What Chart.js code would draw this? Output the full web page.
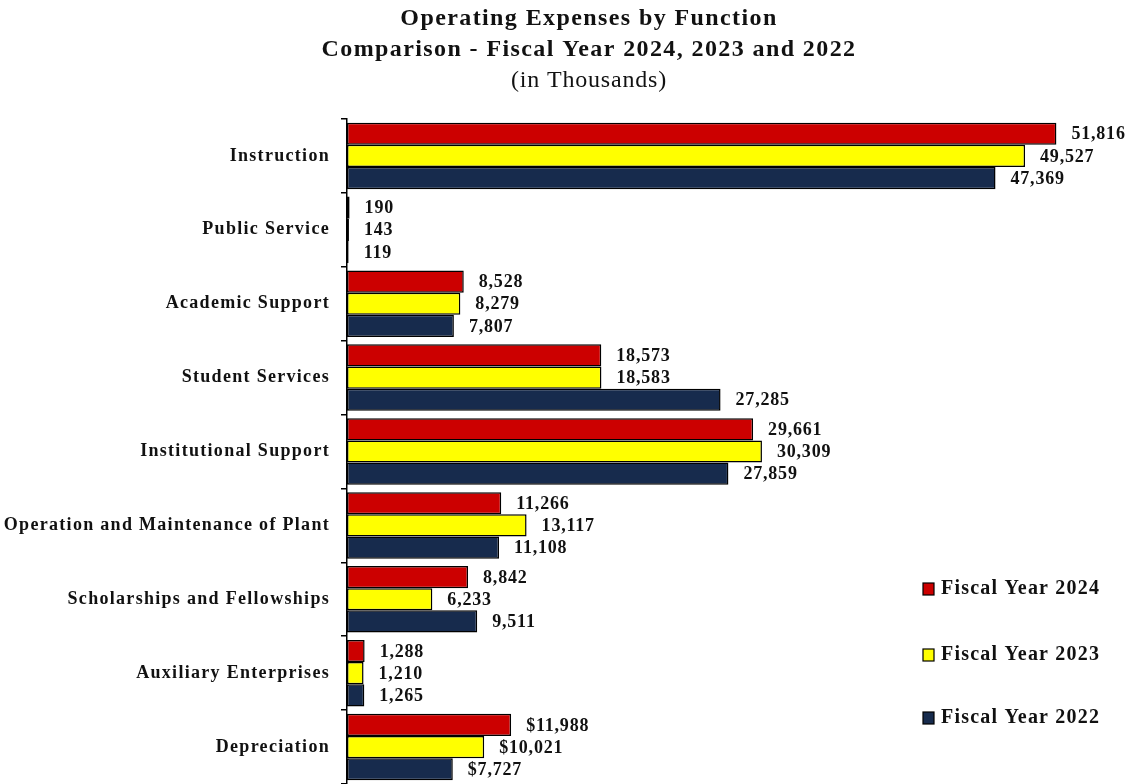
<!DOCTYPE html>
<html>
<head>
<meta charset="utf-8">
<script src="https://cdn.jsdelivr.net/npm/chart.js@4.4.1/dist/chart.umd.min.js"></script>
<style>
  html, body { margin: 0; padding: 0; background: #fff; overflow: hidden; }
  canvas { display: block; }
</style>
</head>
<body>
<canvas id="chart" width="1128" height="784"></canvas>
<script>
const categories = [
  'Instruction', 'Public Service', 'Academic Support', 'Student Services',
  'Institutional Support', 'Operation and Maintenance of Plant',
  'Scholarships and Fellowships', 'Auxiliary Enterprises', 'Depreciation'
]
const fy2024 = [51816, 190, 8528, 18573, 29661, 11266, 8842, 1288, 11988]
const fy2023 = [49527, 143, 8279, 18583, 30309, 13117, 6233, 1210, 10021]
const fy2022 = [47369, 119, 7807, 27285, 27859, 11108, 9511, 1265, 7727]
const seriesNames = ['Fiscal Year 2024', 'Fiscal Year 2023', 'Fiscal Year 2022']
const titleLines = ['Operating Expenses by Function', 'Comparison - Fiscal Year 2024, 2023 and 2022']
const subtitleText = '(in Thousands)'

const FONT = '"Liberation Serif", "Times New Roman", serif'

const fmt = (v) => v.toLocaleString('en-US')

// the original uses a wide, loosely spaced serif; mimic with letter spacing
const spacing = {
  id: 'spacing',
  beforeDraw(chart) {
    chart.ctx.letterSpacing = '1.3px'
  },
}

// title drawn manually so it can sit slightly right of centre like the original
const titlePlugin = {
  id: 'titleText',
  afterDraw(chart) {
    const ctx = chart.ctx
    ctx.save()
    ctx.fillStyle = '#111'
    ctx.textAlign = 'center'
    ctx.textBaseline = 'middle'
    ctx.letterSpacing = '1.4px'
    ctx.font = 'bold 24px ' + FONT
    ctx.fillText(titleLines[0], 589, 19)
    ctx.fillText(titleLines[1], 589, 50)
    ctx.letterSpacing = '0.8px'
    ctx.font = '24px ' + FONT
    ctx.fillText(subtitleText, 589, 81)
    ctx.restore()
  },
}

const valueLabels = {
  id: 'valueLabels',
  afterDatasetsDraw(chart) {
    const ctx = chart.ctx
    ctx.save()
    ctx.font = 'bold 18px ' + FONT
    ctx.letterSpacing = '0.8px'
    ctx.fillStyle = '#111'
    ctx.textAlign = 'left'
    ctx.textBaseline = 'middle'
    chart.data.datasets.forEach((ds, di) => {
      chart.getDatasetMeta(di).data.forEach((bar, i) => {
        const prefix = i === categories.length - 1 ? '$' : ''
        ctx.fillText(prefix + fmt(ds.data[i]), bar.x + 15, bar.y + 1)
      })
    })
    ctx.restore()
  },
}

const boxLegend = {
  id: 'boxLegend',
  afterDraw(chart) {
    const ctx = chart.ctx
    const ys = [589, 655, 718]
    ctx.save()
    ctx.font = 'bold 20px ' + FONT
    ctx.letterSpacing = '1.2px'
    ctx.textBaseline = 'middle'
    ctx.textAlign = 'left'
    chart.data.datasets.forEach((ds, i) => {
      ctx.fillStyle = ds.backgroundColor
      ctx.fillRect(923, ys[i] - 6, 11, 12)
      ctx.lineWidth = 1.2
      ctx.strokeStyle = '#000'
      ctx.strokeRect(923, ys[i] - 6, 11, 12)
      ctx.fillStyle = '#111'
      ctx.fillText(ds.label, 941, ys[i])
    })
    ctx.restore()
  },
}

const mkSet = (label, data, color) => ({
  label: label,
  data: data,
  backgroundColor: color,
  borderColor: '#000',
  borderWidth: 1.5,
  borderSkipped: false,
  categoryPercentage: 0.9,
  barPercentage: 1.0,
})

new Chart(document.getElementById('chart').getContext('2d'), {
  type: 'bar',
  data: {
    labels: categories,
    datasets: [
      mkSet(seriesNames[0], fy2024, '#CC0000'),
      mkSet(seriesNames[1], fy2023, '#FFFF00'),
      mkSet(seriesNames[2], fy2022, '#172B4D'),
    ],
  },
  options: {
    indexAxis: 'y',
    responsive: false,
    animation: false,
    devicePixelRatio: 1,
    layout: { padding: { top: 119, right: 28, bottom: -3, left: 0 } },
    plugins: {
      legend: { display: false },
      title: { display: false },
      tooltip: { enabled: false },
    },
    scales: {
      x: {
        display: false,
        min: 0,
        max: 55000,
      },
      y: {
        afterFit: (axis) => {
          axis.width = 347
          axis.paddingTop = 0
          axis.paddingBottom = 0
        },
        border: { display: true, color: '#000', width: 1.5 },
        grid: {
          offset: true,
          drawOnChartArea: false,
          drawTicks: true,
          tickLength: 6,
          color: '#000',
          lineWidth: 1.5,
        },
        ticks: {
          color: '#111',
          padding: 11,
          font: { family: FONT, size: 18, weight: 'bold' },
        },
      },
    },
  },
  plugins: [spacing, titlePlugin, valueLabels, boxLegend],
})
</script>
</body>
</html>
